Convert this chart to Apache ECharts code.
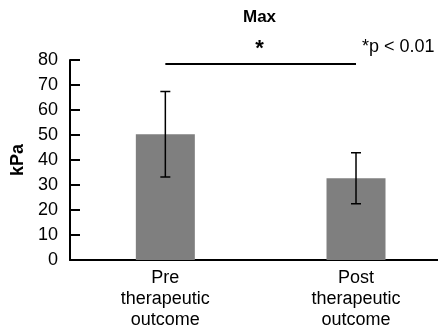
<!DOCTYPE html>
<html>
<head>
<meta charset="utf-8">
<script src="https://cdn.jsdelivr.net/npm/echarts@6/dist/echarts.min.js"></script>
<style>
html, body { margin: 0; padding: 0; background: #fff; }
#chart { width: 438px; height: 329px; }
</style>
</head>
<body>
<div id="chart"></div>
<script>
// data
var categories = ['Pre\ntherapeutic\noutcome', 'Post\ntherapeutic\noutcome'];
var means = [50.3, 32.7];
var sds = [17.1, 10.2];
var sigLevel = 78.4;
var yTicks = [0, 10, 20, 30, 40, 50, 60, 70, 80];

var FONT = '"Liberation Sans", Arial, sans-serif';

var chart = echarts.init(document.getElementById('chart'));

// bars sit on a numeric x axis (0, 1) so the band can run past the right edge
var barData = [], errData = [];
for (var i = 0; i < means.length; i++) {
	barData.push([i, means[i]]);
	errData.push([i, means[i] - sds[i], means[i] + sds[i]]);
}

chart.setOption({
	animation: false,
	backgroundColor: '#fff',
	grid: { left: 70, top: 60, right: 0, height: 200, outerBoundsMode: 'none' },
	graphic: [
		{ type: 'text', x: 259.5, y: 17, style: { text: 'Max', font: 'bold 17px ' + FONT, fill: '#000', textAlign: 'center', textVerticalAlign: 'middle' } },
		{ type: 'text', x: 259.5, y: 49, style: { text: '*', font: 'bold 22px ' + FONT, fill: '#000', textAlign: 'center', textVerticalAlign: 'middle' } },
		{ type: 'text', x: 362, y: 47, style: { text: '*p < 0.01', font: '18px ' + FONT, fill: '#000', textAlign: 'left', textVerticalAlign: 'middle' } }
	],
	xAxis: {
		type: 'value',
		min: -0.5,
		max: 1.43,
		axisLine: { show: true, onZero: false, lineStyle: { color: '#000', width: 2 } },
		axisTick: { show: false },
		splitLine: { show: false },
		axisLabel: {
			customValues: [0, 1],
			color: '#000', fontSize: 18, fontFamily: FONT, lineHeight: 21, margin: 8,
			formatter: function (v) { return categories[Math.round(v)] || ''; }
		}
	},
	yAxis: {
		type: 'value',
		min: 0,
		max: 80,
		interval: 10,
		name: 'kPa',
		nameLocation: 'middle',
		nameGap: 41,
		nameTextStyle: { color: '#000', fontSize: 18, fontWeight: 'bold', fontFamily: FONT },
		axisLine: { show: true, onZero: false, lineStyle: { color: '#000', width: 2 } },
		axisTick: { show: true, inside: true, length: 10, lineStyle: { color: '#000', width: 2 } },
		axisLabel: {
			color: '#000', fontSize: 18, fontFamily: FONT, margin: 12,
			formatter: function (v) { return yTicks.indexOf(v) >= 0 ? String(v) : ''; }
		},
		splitLine: { show: false }
	},
	series: [
		{
			type: 'bar',
			data: barData,
			barWidth: 59,
			itemStyle: { color: '#7f7f7f' },
			z: 2
		},
		{
			type: 'custom',
			data: errData,
			z: 3,
			renderItem: function (params, api) {
				var x = api.value(0);
				var lo = api.coord([x, api.value(1)]);
				var hi = api.coord([x, api.value(2)]);
				var half = 5;
				var st = { stroke: '#000', lineWidth: 1.5 };
				return {
					type: 'group',
					children: [
						{ type: 'line', shape: { x1: hi[0], y1: hi[1], x2: lo[0], y2: lo[1] }, style: st },
						{ type: 'line', shape: { x1: hi[0] - half, y1: hi[1], x2: hi[0] + half, y2: hi[1] }, style: st },
						{ type: 'line', shape: { x1: lo[0] - half, y1: lo[1], x2: lo[0] + half, y2: lo[1] }, style: st }
					]
				};
			}
		},
		{
			type: 'line',
			data: [[0, sigLevel], [1, sigLevel]],
			symbol: 'none',
			lineStyle: { color: '#000', width: 2 },
			z: 3
		}
	]
});
</script>
</body>
</html>
